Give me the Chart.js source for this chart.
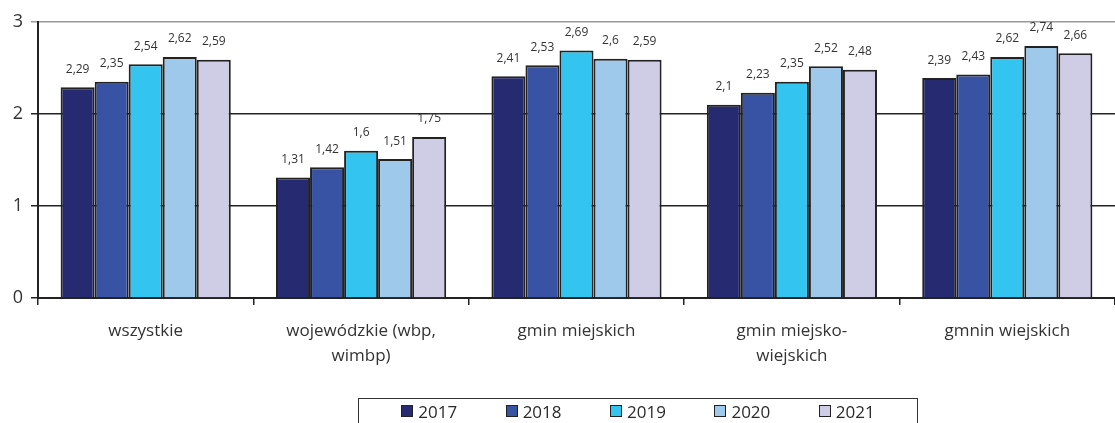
<!DOCTYPE html>
<html>
<head>
<meta charset="utf-8">
<script src="https://cdn.jsdelivr.net/npm/chart.js@4/dist/chart.umd.min.js"></script>
<style>
  body { margin: 0; background: #fff; }
  #wrap { position: relative; width: 1115px; height: 423px; overflow: hidden; }
  #legenda {
    position: absolute; left: 358px; top: 398px; width: 560px; height: 40px;
    border: 1.5px solid #333; box-sizing: border-box;
    display: flex; justify-content: space-around; align-items: flex-start;
    padding: 1px 18px 0 18px;
    font-family: "Open Sans", sans-serif; font-size: 17px; color: #2a2a2a;
  }
  #legenda span.kw {
    display: inline-block; width: 10px; height: 10px; border: 1.5px solid #222;
    margin-right: 5px; vertical-align: 1px;
  }
</style>
</head>
<body>
<div id="wrap">
  <canvas id="wykres" width="1115" height="423"></canvas>
  <div id="legenda"></div>
</div>
<script>
const kategorie = ['wszystkie', ['wojewódzkie (wbp,', 'wimbp)'], 'gmin miejskich', ['gmin miejsko-', 'wiejskich'], 'gmnin wiejskich'];
const lata = ['2017', '2018', '2019', '2020', '2021'];
const kolory = ['#262a70', '#3853a4', '#33c5f0', '#9ec9ea', '#cfcce6'];

const w2017 = [2.29, 1.31, 2.41, 2.10, 2.39];
const w2018 = [2.35, 1.42, 2.53, 2.23, 2.43];
const w2019 = [2.54, 1.60, 2.69, 2.35, 2.62];
const w2020 = [2.62, 1.51, 2.60, 2.52, 2.74];
const w2021 = [2.59, 1.75, 2.59, 2.48, 2.66];
const serie = [w2017, w2018, w2019, w2020, w2021];

const czcionka = '"Open Sans", sans-serif';

const etykiety = {
  id: 'etykiety',
  afterDatasetsDraw(chart) {
    const ctx = chart.ctx;
    ctx.save();
    ctx.font = '12px ' + czcionka;
    ctx.fillStyle = '#333';
    ctx.textAlign = 'center';
    ctx.textBaseline = 'middle';
    chart.data.datasets.forEach((ds, i) => {
      chart.getDatasetMeta(i).data.forEach((bar, j) => {
        const txt = String(ds.data[j]).replace('.', ',');
        ctx.fillText(txt, bar.x, bar.y - 18);
      });
    });
    ctx.restore();
  }
};

const wykres = new Chart(document.getElementById('wykres'), {
  type: 'bar',
  data: {
    labels: kategorie,
    datasets: lata.map((rok, i) => ({
      label: rok,
      data: serie[i],
      backgroundColor: kolory[i],
      borderColor: '#222',
      borderWidth: 2,
      categoryPercentage: 0.79,
      barPercentage: 1
    }))
  },
  options: {
    responsive: false,
    animation: false,
    layout: { padding: { top: 22, right: 0, left: 0, bottom: 0 } },
    plugins: {
      legend: { display: false },
      tooltip: { enabled: false }
    },
    scales: {
      x: {
        afterFit: s => { s.height = 125; },
        grid: { drawOnChartArea: false, offset: true, tickLength: 7, color: '#222', lineWidth: 1.5 },
        border: { color: '#222', width: 2 },
        ticks: { color: '#333', font: { family: czcionka, size: 17, lineHeight: 1.45 }, padding: 14, maxRotation: 0 }
      },
      y: {
        min: 0, max: 3,
        afterFit: s => { s.width = 38; },
        grid: {
          color: c => c.tick && c.tick.value === 3 ? '#999' : '#222',
          lineWidth: 1.5, tickLength: 7
        },
        border: { color: '#222', width: 2 },
        ticks: { stepSize: 1, color: '#333', padding: 8, font: { family: czcionka, size: 18 } }
      }
    }
  },
  plugins: [etykiety]
});

const legenda = document.getElementById('legenda');
lata.forEach((rok, i) => {
  const el = document.createElement('div');
  el.innerHTML = `<span class="kw" style="background:${kolory[i]}"></span>${rok}`;
  legenda.appendChild(el);
});
</script>
</body>
</html>
